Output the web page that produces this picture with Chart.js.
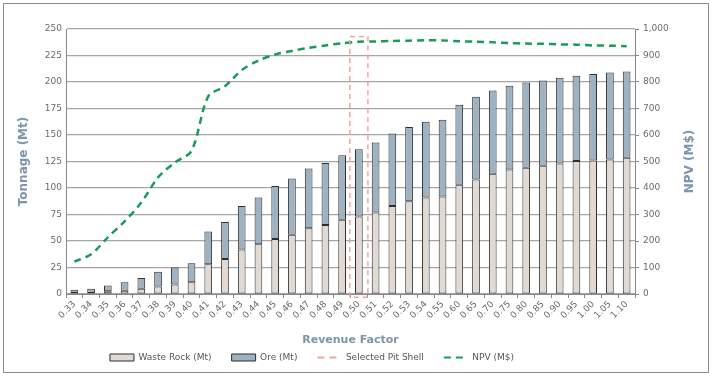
<!DOCTYPE html>
<html lang="en">
<head>
<meta charset="UTF-8">
<script src="https://cdn.jsdelivr.net/npm/chart.js"></script>
<style>
  body { margin: 0; background: #fff; }
  #wrap { position: relative; width: 714px; height: 377px; }
  #frame { position: absolute; left: 3px; top: 3px; width: 704px; height: 368px; border: 1px solid #8c8c8c; }
  canvas { position: absolute; left: 0; top: 0; }
</style>
</head>
<body>
<div id="wrap">
  <div id="frame"></div>
  <canvas id="myChart" width="714" height="377"></canvas>
</div>
<script>
// revenue factors (x categories)
var factors = ['0.33','0.34','0.35','0.36','0.37','0.38','0.39','0.40','0.41','0.42','0.43','0.44',
  '0.45','0.46','0.47','0.48','0.49','0.50','0.51','0.52','0.53','0.54','0.55','0.60','0.65','0.70',
  '0.75','0.80','0.85','0.90','0.95','1.00','1.05','1.10'];

// tonnages in Mt
var wasteRock = [1, 1, 2.5, 3, 5, 7, 9, 11, 28, 33, 42, 47, 52, 56, 62, 65, 70, 73, 77, 83, 87.5, 91, 92,
  103, 108, 113.5, 117.5, 119, 121, 123, 125.5, 126, 127, 128.5];
var ore = [3, 4, 5.5, 8, 10, 14, 16, 18, 31, 35, 41, 44, 50, 53, 56.5, 58.5, 61, 63.5, 66, 68.5, 70, 71.5, 72.5,
  75.5, 78, 78.5, 79, 80.5, 80.5, 81, 80.5, 81.5, 82, 81.5];

// NPV in M$
var npv = [122, 150, 214, 274, 345, 440, 496, 540, 746, 784, 845, 881, 904, 917, 929, 938, 946, 952, 953,
  955, 956, 958, 957, 954, 952, 950, 947, 945, 944, 942, 941, 938, 937, 935];

// selected pit shell marker
var selectedShell = '0.50';
var shellSpan = [-3, 243];

var titleColor = '#7d94aa';
var tickColor = '#6b6b6b';
var gridColor = '#a6a6a6';
var legendShiftX = -43;

var shellBox = {
  id: 'shellBox',
  afterDatasetsDraw: function (chart) {
    var x = chart.scales.x, y = chart.scales.y;
    var i = factors.indexOf(selectedShell);
    var cx = x.getPixelForValue(i);
    var half = x.width / factors.length * 0.54;
    var top = y.getPixelForValue(shellSpan[1]);
    var bot = y.getPixelForValue(shellSpan[0]);
    var ctx = chart.ctx;
    ctx.save();
    ctx.strokeStyle = '#f4a39c';
    ctx.lineWidth = 1.5;
    ctx.setLineDash([5, 4]);
    ctx.strokeRect(cx - half, top, half * 2, bot - top);
    ctx.restore();
  }
};

// right axis title, reading bottom to top like the left one
var rightTitle = {
  id: 'rightTitle',
  afterDraw: function (chart) {
    var s = chart.scales.y1;
    var ctx = chart.ctx;
    ctx.save();
    ctx.translate(s.right - 16, (s.top + s.bottom) / 2);
    ctx.rotate(-Math.PI / 2);
    ctx.fillStyle = titleColor;
    ctx.font = 'bold 12px "DejaVu Sans"';
    ctx.textAlign = 'center';
    ctx.textBaseline = 'middle';
    ctx.fillText('NPV (M$)', 0, 0);
    ctx.restore();
  }
};

// legend sits a bit left of centre in the original
var legendShift = {
  id: 'legendShift',
  beforeDraw: function (chart) {
    var lg = chart.legend;
    if (lg && !lg._shifted) {
      var d = lg.draw;
      lg.draw = function () {
        this.ctx.save();
        this.ctx.translate(legendShiftX, 0);
        d.apply(this, arguments);
        this.ctx.restore();
      };
      lg._shifted = true;
    }
  }
};

var ctx = document.getElementById('myChart').getContext('2d');
var myChart = new Chart(ctx, {
  type: 'bar',
  data: {
    labels: factors,
    datasets: [
      { label: 'Waste Rock (Mt)', data: wasteRock, backgroundColor: '#e1dad4', borderColor: '#2e2e2e',
        borderWidth: 1, borderSkipped: false, stack: 't', yAxisID: 'y', order: 2, barPercentage: 0.46, categoryPercentage: 1 },
      { label: 'Ore (Mt)', data: ore, backgroundColor: '#9fb2c1', borderColor: '#2e2e2e',
        borderWidth: 1, borderSkipped: false, stack: 't', yAxisID: 'y', order: 3, barPercentage: 0.46, categoryPercentage: 1 },
      { type: 'line', label: 'Selected Pit Shell', data: [], borderColor: '#f4a39c', backgroundColor: '#f4a39c',
        borderDash: [6, 5], borderWidth: 2, yAxisID: 'y', order: 1 },
      { type: 'line', label: 'NPV (M$)', data: npv, borderColor: '#1a9b5b', backgroundColor: '#1a9b5b',
        borderDash: [7, 5], borderWidth: 2.5, pointRadius: 0, tension: 0.3, yAxisID: 'y1', order: 0 }
    ]
  },
  options: {
    responsive: false,
    animation: false,
    layout: { padding: { left: 4, right: 8, top: 29, bottom: 5 } },
    plugins: {
      tooltip: { enabled: false },
      legend: {
        position: 'bottom',
        labels: {
          usePointStyle: true,
          pointStyleWidth: 24,
          boxHeight: 7,
          padding: 20,
          color: '#555',
          font: { family: 'DejaVu Sans', size: 9 },
          sort: function (a, b) { return a.datasetIndex - b.datasetIndex; },
          generateLabels: function (chart) {
            var items = Chart.defaults.plugins.legend.labels.generateLabels(chart);
            items.forEach(function (it) {
              var ds = chart.data.datasets[it.datasetIndex];
              if (ds.type === 'line') {
                it.pointStyle = 'line';
                it.lineWidth = 2;
                it.lineDash = [7, 5];
                it.strokeStyle = ds.borderColor;
              } else {
                it.pointStyle = 'rect';
                it.lineWidth = 1;
                it.strokeStyle = '#2e2e2e';
              }
            });
            return items;
          }
        }
      }
    },
    scales: {
      x: {
        stacked: true,
        grid: { drawOnChartArea: false, drawTicks: true, tickLength: 4, color: '#888' },
        border: { color: '#888' },
        ticks: { autoSkip: false, minRotation: 45, maxRotation: 45, color: tickColor, font: { family: 'DejaVu Sans', size: 9 }, padding: 1 },
        title: { display: true, text: 'Revenue Factor', color: titleColor, font: { family: 'DejaVu Sans', size: 11, weight: 'bold' }, padding: { top: 0, bottom: -14 } },
        afterFit: function (s) { s.height = 39; }
      },
      y: {
        stacked: true,
        min: 0, max: 250,
        ticks: { stepSize: 25, color: tickColor, font: { family: 'DejaVu Sans', size: 9 }, padding: 4 },
        grid: { color: gridColor, lineWidth: 1.2, drawTicks: false },
        border: { color: '#888' },
        title: { display: true, text: 'Tonnage (Mt)', color: titleColor, font: { family: 'DejaVu Sans', size: 12, weight: 'bold' }, padding: { top: 13 } },
        afterFit: function (s) { s.width = 62; }
      },
      y1: {
        position: 'right',
        min: 0, max: 1000,
        ticks: { stepSize: 100, color: tickColor, font: { family: 'DejaVu Sans', size: 9 }, padding: 4,
          callback: function (v) { return v.toLocaleString('en-US'); } },
        grid: { drawOnChartArea: false, tickLength: 4, color: '#888' },
        border: { color: '#888' },
        afterFit: function (s) { s.width = 71; }
      }
    }
  },
  plugins: [shellBox, rightTitle, legendShift]
});
</script>
</body>
</html>
